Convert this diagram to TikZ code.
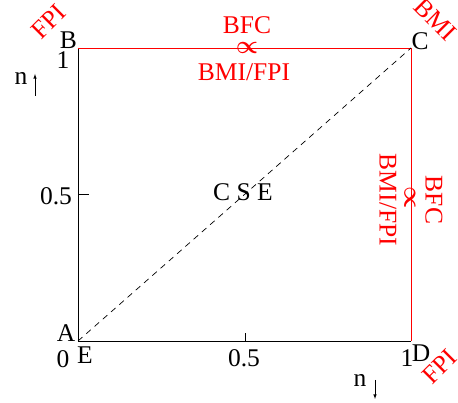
\documentclass[tikz,border=0pt]{standalone}
\usepackage{fontspec}
\setmainfont{Liberation Serif}
\begin{document}
\begin{tikzpicture}[x=1pt,y=1pt,
  lbl/.style={inner sep=0pt,font=\fontsize{25.5}{29}\selectfont},
  rlbl/.style={lbl,text=red},
  prop/.style={rlbl,font=\fontsize{32}{36}\selectfont\boldmath},
  edge/.style={line width=0.9pt},
  redge/.style={edge,draw=red}]
\useasboundingbox (0,0) rectangle (458,403);
\coordinate (A) at (78,62);
\coordinate (B) at (78,355);
\coordinate (C) at (411,355);
\coordinate (D) at (411,62);
\coordinate (lt) at (78,209);
\coordinate (lte) at (89,209);
\coordinate (bt) at (245,62);
\coordinate (bte) at (245,70);
% box
\draw[edge] (B) -- (A) -- (D);
\draw[redge] (B) -- (C) -- (D);
\draw[edge] (lt) -- (lte);
\draw[edge] (bt) -- (bte);
\draw[line width=0.7pt,dash pattern=on 6pt off 5pt] (A) -- (C);
% black labels
\node[lbl] (lB) at (68.5,363) {B};
\node[lbl] (l1) at (63,343) {1};
\node[lbl] (ln) at (21,324) {n};
\coordinate (nu0) at (35,307);
\coordinate (nu1) at (35,329);
\draw[-latex,line width=0.6pt] (nu0) -- (nu1);
\node[lbl] (lh) at (56,207) {0.5};
\node[lbl] (lA) at (66,70) {A};
\node[lbl] (l0) at (63,44) {0};
\node[lbl] (lE) at (85,48) {E};
\node[lbl] (bh) at (244,45) {0.5};
\node[lbl] (b1) at (407,45) {1};
\node[lbl] (lD) at (421,50) {D};
\node[lbl] (bn) at (360,23) {n};
\coordinate (nd0) at (375,23);
\coordinate (nd1) at (375,4);
\draw[-latex,line width=0.6pt] (nd0) -- (nd1);
\node[lbl] (lC) at (420,362) {C};
\node[lbl] (cse) at (243,211) {C S E};
% red labels
\node[rlbl,rotate=45] (fpi1) at (49,381) {FPI};
\node[rlbl,rotate=-45] (bmi) at (435,383) {BMI};
\node[rlbl,rotate=45] (fpi2) at (440,36) {FPI};
\node[rlbl] (tbfc) at (247,378) {BFC};
\node[prop] (tprop) at (247,355) {$\propto$};
\node[rlbl] (tbmi) at (244,331) {BMI/FPI};
\node[rlbl,rotate=-90] (rbfc) at (434,203) {BFC};
\node[prop,rotate=-90] (rprop) at (410,205) {$\propto$};
\node[rlbl,rotate=-90] (rbmi) at (388,203) {BMI/FPI};
\end{tikzpicture}
\end{document}
